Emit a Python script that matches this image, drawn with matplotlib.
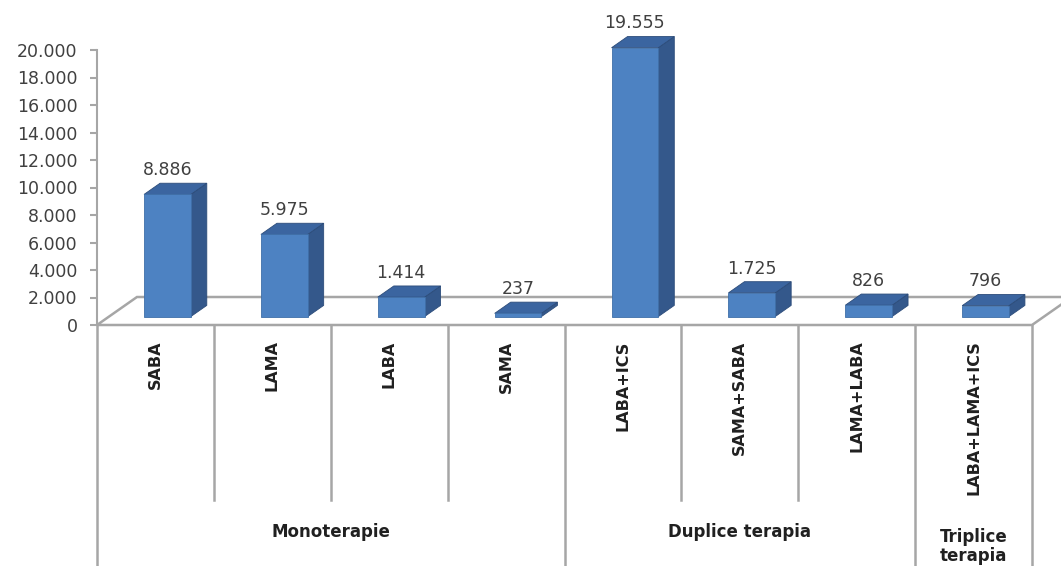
import matplotlib
matplotlib.use("Agg")
import matplotlib.pyplot as plt
from matplotlib.patches import Polygon

categories = ["SABA", "LAMA", "LABA", "SAMA", "LABA+ICS", "SAMA+SABA", "LAMA+LABA", "LABA+LAMA+ICS"]
values = [8886, 5975, 1414, 237, 19555, 1725, 826, 796]
groups = ["Monoterapie", "Duplice terapia", "Triplice\nterapia"]
group_bounds = [(0, 4), (4, 7), (7, 8)]
y_ticks = [0, 2000, 4000, 6000, 8000, 10000, 12000, 14000, 16000, 18000, 20000]

plt.rcParams['font.family'] = ['DejaVu Sans']

def dotted(v):
    return f"{v:,}".replace(",", ".")

fig = plt.figure(figsize=(10.61, 5.66), dpi=100)
ax = fig.add_axes([97 / 1061, (566 - 325) / 566, (1032 - 97) / 1061, 275 / 566])
ax.set_xlim(0, len(categories))
ax.set_ylim(0, 20000)

# depth of the floor (in data units) and bar placement along it
dx, dy = 0.342, 2036
f0, f1 = 0.3, 0.7
bw = 0.4

grey = "#a6a6a6"
front_c, side_c, top_c = "#4d82c2", "#34588b", "#3b65a0"

# floor
floor = Polygon([(0, 0), (len(categories), 0), (len(categories) + dx, dy), (dx, dy)],
                closed=True, fill=False, edgecolor=grey, lw=1.8, clip_on=False, zorder=1)
ax.add_patch(floor)

for i, v in enumerate(values):
    x0 = i + 0.5 - bw / 2 + f0 * dx
    x1 = x0 + bw
    yb = f0 * dy
    yt = v + f0 * dy
    ddx, ddy = (f1 - f0) * dx, (f1 - f0) * dy
    side = Polygon([(x1, yb), (x1 + ddx, yb + ddy), (x1 + ddx, yt + ddy), (x1, yt)],
                   facecolor=side_c, edgecolor="#2c4c7a", lw=0.6, clip_on=False, zorder=3)
    top = Polygon([(x0, yt), (x1, yt), (x1 + ddx, yt + ddy), (x0 + ddx, yt + ddy)],
                  facecolor=top_c, edgecolor="#2c4c7a", lw=0.6, clip_on=False, zorder=3)
    front = Polygon([(x0, yb), (x1, yb), (x1, yt), (x0, yt)],
                    facecolor=front_c, edgecolor="#3f6fa8", lw=0.6, clip_on=False, zorder=4)
    for p in (side, top, front):
        ax.add_patch(p)
    ax.annotate(dotted(v), (i + 0.5 + f0 * dx, v + f1 * dy), xytext=(0, 3),
                textcoords="offset points", ha="center", va="bottom",
                fontsize=12.5, color="#404040", zorder=5, annotation_clip=False)

# axes styling
for s in ["top", "right", "bottom"]:
    ax.spines[s].set_visible(False)
ax.spines["left"].set_color(grey)
ax.spines["left"].set_linewidth(1.5)
ax.set_yticks(y_ticks)
ax.set_yticklabels([dotted(t) for t in y_ticks])
ax.tick_params(axis="y", length=5, width=1.5, color=grey, pad=9, labelsize=12.5, labelcolor="#404040")

ax.set_xticks([i + 0.5 for i in range(len(categories))])
ax.set_xticklabels(categories, rotation=90, fontweight="bold", fontsize=11.5)
ax.tick_params(axis="x", length=0, pad=11, labelcolor="#202020")

# category dividers and group labels below the floor
trans = ax.get_xaxis_transform()
starts = [g[0] for g in group_bounds] + [len(categories)]
for k in range(len(categories) + 1):
    bottom = -0.88 if k in starts else -0.636
    ax.plot([k, k], [0, bottom], color=grey, lw=1.8, transform=trans, clip_on=False)

for name, (a, b) in zip(groups, group_bounds):
    y = -0.753 if "\n" not in name else -0.805
    ax.text((a + b) / 2, y, name, transform=trans, ha="center", va="center",
            fontsize=12, fontweight="bold", color="#202020", linespacing=1.1)

fig.savefig("out.png", dpi=100)
